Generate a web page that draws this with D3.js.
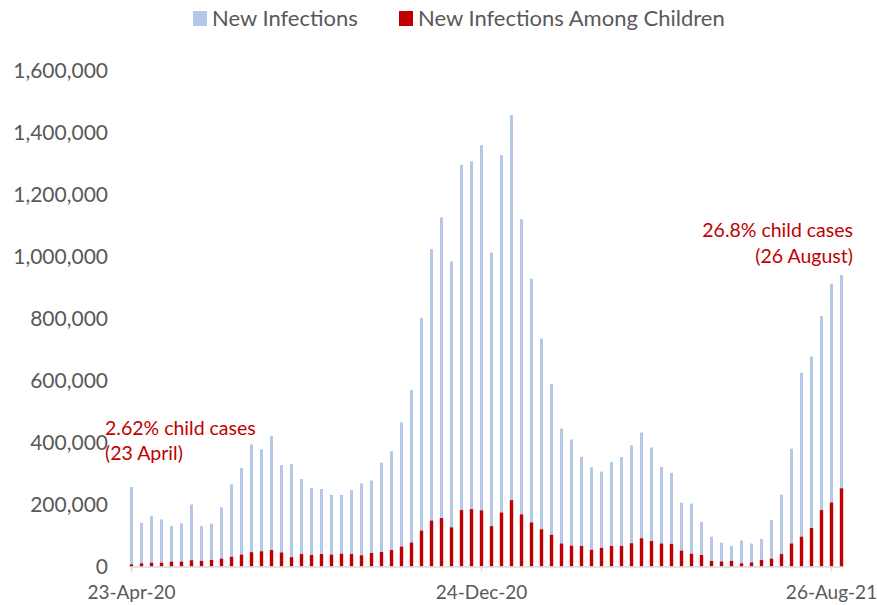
<!DOCTYPE html>
<html>
<head>
<meta charset="utf-8">
<script src="https://cdn.jsdelivr.net/npm/d3@7"></script>
<style>
  html, body { margin: 0; padding: 0; background: #fff; }
  svg { display: block; font-family: Lato, "Open Sans", sans-serif; }
</style>
</head>
<body>
<svg id="chart" width="877" height="605"></svg>
<script>
// Week-ending dates of the weekly reports
const weeks = [
  "23-Apr-20","30-Apr-20","7-May-20","14-May-20","21-May-20","28-May-20",
  "4-Jun-20","11-Jun-20","18-Jun-20","25-Jun-20","2-Jul-20","9-Jul-20",
  "16-Jul-20","23-Jul-20","30-Jul-20","6-Aug-20","13-Aug-20","20-Aug-20",
  "27-Aug-20","3-Sep-20","10-Sep-20","17-Sep-20","24-Sep-20","1-Oct-20",
  "8-Oct-20","15-Oct-20","22-Oct-20","29-Oct-20","5-Nov-20","12-Nov-20",
  "19-Nov-20","26-Nov-20","3-Dec-20","10-Dec-20","17-Dec-20","24-Dec-20",
  "31-Dec-20","7-Jan-21","14-Jan-21","21-Jan-21","28-Jan-21","4-Feb-21",
  "11-Feb-21","18-Feb-21","25-Feb-21","4-Mar-21","11-Mar-21","18-Mar-21",
  "25-Mar-21","1-Apr-21","8-Apr-21","15-Apr-21","22-Apr-21","29-Apr-21",
  "6-May-21","13-May-21","20-May-21","27-May-21","3-Jun-21","10-Jun-21",
  "17-Jun-21","24-Jun-21","1-Jul-21","8-Jul-21","15-Jul-21","22-Jul-21",
  "29-Jul-21","5-Aug-21","12-Aug-21","19-Aug-21","26-Aug-21","2-Sep-21"
];

// New infections, all ages
const newInfections = [
  256000,141000,163000,152000,131000,139000,200000,130000,138000,191000,
  265000,318000,394000,378000,421000,327000,330000,282000,254000,250000,
  231000,231000,247000,268000,277000,335000,372000,465000,569000,802000,
  1024000,1126000,984000,1296000,1307000,1359000,1013000,1327000,1456000,1120000,
  928000,735000,589000,445000,410000,354000,320000,306000,337000,353000,
  391000,432000,384000,321000,302000,206000,203000,144000,96000,77000,
  66000,84000,74000,89000,150000,232000,380000,625000,677000,808000,
  912000,940000
];

// New infections among children
const childInfections = [
  6700,10000,12000,12000,15600,15600,20000,18000,21000,25000,
  31000,38000,46000,49000,53000,45000,30000,40000,37000,40000,
  38000,41000,40000,36000,43500,47000,53000,64000,77000,115600,
  148000,156000,126000,182000,185000,181000,130000,174000,214000,168000,
  142000,120000,102000,74000,67000,66000,54000,60000,66000,66000,
  75000,91000,82000,74000,73000,51000,41000,37000,18000,16000,
  18000,10000,13000,21000,25000,40000,74000,96000,124000,182000,
  206000,252000
];

const yTicks = [0, 200000, 400000, 600000, 800000, 1000000, 1200000, 1400000, 1600000];
const xTickLabels = ["23-Apr-20", "24-Dec-20", "26-Aug-21"];
const seriesNames = ["New Infections", "New Infections Among Children"];
const seriesColors = ["#b4c7e7", "#c00000"];

const svg = d3.select("#chart");
const textGray = "#595959";
const fontStack = "Lato, 'Open Sans', sans-serif";

const x = d3.scaleBand().domain(weeks).range([126.5, 846.5]).padding(0);
const y = d3.scaleLinear().domain([0, 1600000]).range([566.5, 70.5]);
const cx = w => x(w) + x.bandwidth() / 2;

// Y axis labels (no axis line, no gridlines)
const yAxis = d3.axisLeft(y).tickValues(yTicks).tickSize(0).tickPadding(0)
  .tickFormat(d3.format(","));
const gy = svg.append("g").attr("transform", "translate(108,0)").call(yAxis);
gy.select(".domain").remove();
gy.selectAll("text")
  .attr("fill", textGray)
  .style("font-size", "21px")
  .style("font-family", fontStack);

// Bars: totals behind, children in front
const blueW = 3, redW = 3.4;
svg.append("g").selectAll("rect").data(weeks).join("rect")
  .attr("x", (w) => cx(w) - blueW / 2)
  .attr("width", blueW)
  .attr("y", (w, i) => y(newInfections[i]))
  .attr("height", (w, i) => y(0) - y(newInfections[i]))
  .attr("fill", seriesColors[0]);

svg.append("g").selectAll("rect").data(weeks).join("rect")
  .attr("x", (w) => cx(w) - redW / 2)
  .attr("width", redW)
  .attr("y", (w, i) => y(childInfections[i]))
  .attr("height", (w, i) => y(0) - y(childInfections[i]))
  .attr("fill", seriesColors[1]);

// X axis
const xAxis = d3.axisBottom(x).tickValues(xTickLabels).tickSize(5).tickSizeOuter(0).tickPadding(14);
const gx = svg.append("g").attr("transform", `translate(0,${y(0)})`).call(xAxis);
gx.select(".domain").remove();
gx.selectAll(".tick line").attr("stroke", "#d9d9d9").attr("stroke-width", 1.5);
gx.selectAll("text")
  .attr("fill", textGray)
  .style("font-size", "19px")
  .style("font-family", fontStack);
svg.append("line")
  .attr("x1", cx(weeks[0]) - 0.5)
  .attr("x2", cx(weeks[weeks.length - 1]) + 0.5)
  .attr("y1", y(0) + 0.5).attr("y2", y(0) + 0.5)
  .attr("stroke", "#d9d9d9").attr("stroke-width", 1.5);

// Legend
const legend = [
  { name: seriesNames[0], color: seriesColors[0], x: 193 },
  { name: seriesNames[1], color: seriesColors[1], x: 399 }
];
const lg = svg.append("g").selectAll("g").data(legend).join("g")
  .attr("transform", d => `translate(${d.x},0)`);
lg.append("rect").attr("x", 0).attr("y", 11).attr("width", 14).attr("height", 15)
  .attr("fill", d => d.color);
lg.append("text").attr("x", 19).attr("y", 26)
  .attr("fill", textGray).style("font-size", "22px")
  .text(d => d.name);

// Share of child cases at the first and last week
const first = 0, last = weeks.length - 1;
const firstShare = (childInfections[first] / newInfections[first] * 100).toFixed(2);
const lastShare = (childInfections[last] / newInfections[last] * 100).toFixed(1);
const red = seriesColors[1];

const noteL = svg.append("text").attr("fill", red).style("font-size", "19.5px");
noteL.append("tspan").attr("x", 105).attr("y", 435).text(`${firstShare}% child cases`);
noteL.append("tspan").attr("x", 105).attr("y", 460).text("(23 April)");

const noteR = svg.append("text").attr("fill", red).style("font-size", "19.5px")
  .attr("text-anchor", "end");
noteR.append("tspan").attr("x", 853).attr("y", 237).text(`${lastShare}% child cases`);
noteR.append("tspan").attr("x", 853).attr("y", 263).text("(26 August)");
</script>
</body>
</html>
